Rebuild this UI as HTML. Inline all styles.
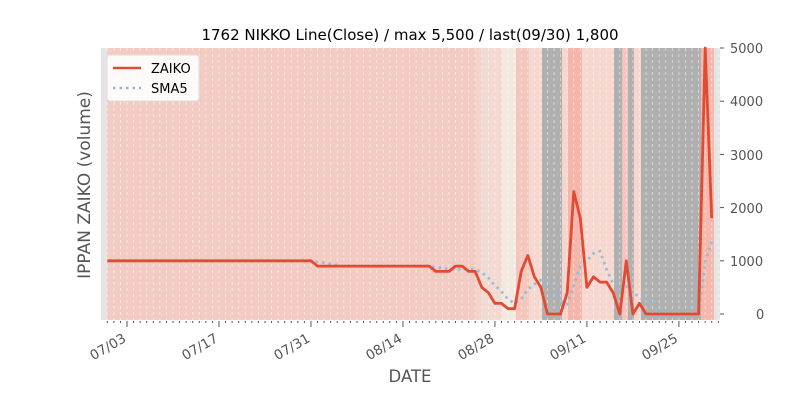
<!DOCTYPE html>
<html><head><meta charset="utf-8"><style>
html,body{margin:0;padding:0;background:#fff;}
svg{display:block;font-family:"DejaVu Sans","Liberation Sans",sans-serif;}
</style></head><body>
<svg id="s" width="800" height="400" xmlns="http://www.w3.org/2000/svg">
<rect x="0" y="0" width="800" height="400" fill="#fff"/>
<rect x="101" y="48" width="619" height="272" fill="#e5e5e5"/>
<g id="bands"></g>
<g id="grid"></g>
<g id="lines"></g>
<g id="ticks"></g>
<text x="410" y="40" font-size="15" text-anchor="middle" fill="#000">1762 NIKKO Line(Close) / max 5,500 / last(09/30) 1,800</text>
<text x="90" y="185" font-size="17" fill="#555" text-anchor="middle" transform="rotate(-90 90 185)">IPPAN ZAIKO (volume)</text>
<text x="410" y="382" font-size="16.5" fill="#555" text-anchor="middle">DATE</text>
<g font-size="13" fill="#555">
<text x="730" y="53">5000</text>
<text x="730" y="106">4000</text>
<text x="730" y="160">3000</text>
<text x="730" y="213">2000</text>
<text x="730" y="266">1000</text>
<text x="756" y="319">0</text>
</g>
<g stroke="#555" stroke-width="1">
<line x1="720" y1="48" x2="724" y2="48"/><line x1="720" y1="101.2" x2="724" y2="101.2"/>
<line x1="720" y1="154.4" x2="724" y2="154.4"/><line x1="720" y1="207.6" x2="724" y2="207.6"/>
<line x1="720" y1="260.8" x2="724" y2="260.8"/><line x1="720" y1="314" x2="724" y2="314"/>
</g>
<g>
<rect x="107" y="55" width="92" height="46" rx="3" fill="#fff" fill-opacity="0.9" stroke="#ddd"/>
<line x1="113" y1="68" x2="141" y2="68" stroke="#e24a33" stroke-width="2.5"/>
<line x1="113" y1="88" x2="141" y2="88" stroke="#8ebad9" stroke-width="2.5" stroke-dasharray="2.5,4"/>
<text x="151" y="73" font-size="13" fill="#000">ZAIKO</text>
<text x="151" y="93" font-size="13" fill="#000">SMA5</text>
</g>
</svg>
<script>
var NS="http://www.w3.org/2000/svg";
function el(p,t,a){var e=document.createElementNS(NS,t);for(var k in a)e.setAttribute(k,a[k]);p.appendChild(e);return e;}
var bands=document.getElementById('bands');
var segs=[[107,476,'#f2cbc2'],[476,482,'#f4d3ca'],[482,489,'#f0dbd3'],[489,502,'#f3d9d1'],[502,516,'#f3e9e0'],[516,529,'#f4c6bc'],[529,542,'#f5d8d0'],[542,562,'#b0b0b0'],[562,568,'#f5d6ce'],[568,582,'#f4b6ab'],[582,614,'#f6d8d0'],[614,622,'#b0b0b0'],[622,628,'#f4c5bc'],[628,634,'#b0b0b0'],[634,641,'#f6d6ce'],[641,701,'#b0b0b0'],[701,714,'#f4b8ad']];
segs.forEach(function(s){el(bands,'rect',{x:s[0],y:48,width:s[1]-s[0],height:272,fill:s[2]});});
var X=function(i){return 107.3+6.57*i;};
var Y=function(v){return 314-v*0.0532;};
var grid=document.getElementById('grid');
for(var i=0;i<=93;i++){el(grid,'line',{x1:X(i),y1:48,x2:X(i),y2:320,stroke:'#fff','stroke-opacity':0.6,'stroke-width':0.8,'stroke-dasharray':'3,3'});}
var z=[];
for(i=0;i<=31;i++)z.push(1000);
for(i=32;i<=49;i++)z.push(900);
z=z.concat([800,800,800,900,900,800,800,500,400,200,200,100,100,800,1100,700,500,0,0,0,400,2300,1800,500,700,600,600,400,0,1000,0,200]);
while(z.length<91)z.push(0);
z.push(5000);z.push(1800);
var lines=document.getElementById('lines');
var sp=[];for(i=4;i<z.length;i++){var m=(z[i]+z[i-1]+z[i-2]+z[i-3]+z[i-4])/5;sp.push(X(i).toFixed(1)+','+Y(m).toFixed(1));}
el(lines,'polyline',{points:sp.join(' '),fill:'none',stroke:'#8ebad9','stroke-width':2.8,'stroke-dasharray':'2.5,4','stroke-opacity':0.9});
var zp=z.map(function(v,i){return X(i).toFixed(1)+','+Y(v).toFixed(1);});
el(lines,'polyline',{points:zp.join(' '),fill:'none',stroke:'#e24a33','stroke-width':2.8,'stroke-linejoin':'round'});
var ticks=document.getElementById('ticks');
var labs={3:'07/03',17:'07/17',31:'07/31',45:'08/14',59:'08/28',73:'09/11',87:'09/25'};
for(i=-1;i<=93;i++){var x=X(i);if(x<101||x>720)continue;var maj=labs[i]!==undefined;
el(ticks,'line',{x1:x,y1:321,x2:x,y2:maj?327:323,stroke:'#555','stroke-width':1});
if(maj){var t=el(ticks,'text',{x:x,y:341,'font-size':13.5,fill:'#555','text-anchor':'end',transform:'rotate(-30 '+x+' 341)'});t.textContent=labs[i];}}
</script>
</body></html>
